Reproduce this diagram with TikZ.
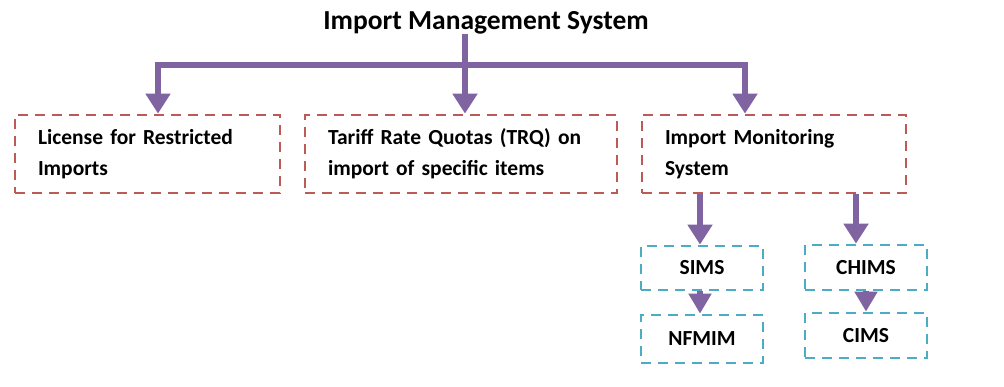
\documentclass[tikz,border=0pt]{standalone}
\usepackage{fontspec}
\setmainfont{Carlito}
\usetikzlibrary{arrows.meta}
\definecolor{pur}{RGB}{128,100,162}
\definecolor{redd}{RGB}{190,90,85}
\definecolor{teal}{RGB}{75,172,198}
\begin{document}
\begin{tikzpicture}[x=1pt,y=-1pt,
  every node/.style={font=\bfseries\fontsize{21.5}{31}\selectfont, inner sep=0pt},
  redbox/.style={draw=redd, line width=2.8pt, dash pattern=on 10pt off 7pt, minimum height=78pt, text width=#1, align=left, inner xsep=23pt},
  tealbox/.style={draw=teal, line width=2.8pt, dash pattern=on 10pt off 7pt, minimum width=122pt, minimum height=#1},
  arr/.style={draw=pur, line width=6pt, -{Triangle[width=24pt,length=20pt]}},
  arrb/.style={draw=pur, line width=6pt, {Triangle[width=24pt,length=20pt]}-{Triangle[width=24pt,length=20pt]}},
  arrs/.style={draw=pur, line width=6pt, -{Triangle[width=22pt,length=20pt]}}]
\useasboundingbox (0,0) rectangle (1004,386);
\node[font=\bfseries\fontsize{27.5}{32}\selectfont, anchor=base] (t) at (486,29) {Import Management System};
\node[redbox=219pt] (b1) at (147.5,154) {License for Restricted\\Imports};
\node[redbox=266pt] (b2) at (461,154) {Tariff Rate Quotas (TRQ) on\\import of specific items};
\node[redbox=218pt] (b3) at (774,154) {Import Monitoring\\System};
\node[tealbox=44pt] (s1) at (702,268) {SIMS};
\node[tealbox=48pt] (s2) at (702,339) {NFMIM};
\node[tealbox=45pt] (c1) at (866,267.5) {CHIMS};
\node[tealbox=45pt] (c2) at (866,335.5) {CIMS};
\coordinate (a1) at (158,65);
\coordinate (a2) at (465,65);
\coordinate (a3) at (745,65);
\coordinate (d1) at (700,0);
\coordinate (d2) at (856,0);
\draw[arrb] (b1.north -| a1) -- (a1) -- (a3) -- (b3.north -| a3);
\draw[arr] (t.south -| a2) -- (b2.north -| a2);
\draw[arr] (b3.south -| d1) -- (s1.north -| d1);
\draw[arr] (b3.south -| d2) -- (c1.north -| d2);
\draw[arrs] (s1.south -| d1) -- (s2.north -| d1);
\draw[arrs] (c1.south) -- (c2.north);
\end{tikzpicture}
\end{document}
